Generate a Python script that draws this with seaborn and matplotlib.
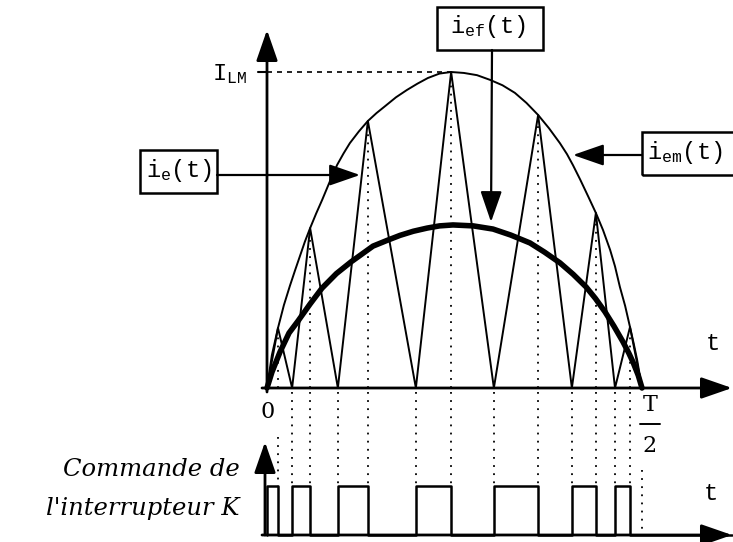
import matplotlib
matplotlib.use("Agg")
import matplotlib.pyplot as plt
from matplotlib.patches import Rectangle
import seaborn as sns

# Time normalised to the half period (T/2 = 1), currents in units of I_LM
env_t = [0.0, 0.013, 0.0293, 0.045, 0.061, 0.075, 0.088, 0.101, 0.115, 0.131, 0.147,
         0.167, 0.187, 0.204, 0.221, 0.245, 0.269, 0.292, 0.315, 0.344, 0.373, 0.401,
         0.429, 0.460, 0.491, 0.525, 0.560, 0.595, 0.628, 0.661, 0.692, 0.723, 0.752,
         0.781, 0.800, 0.816, 0.835, 0.857, 0.877, 0.896, 0.915, 0.928, 0.941, 0.955,
         0.968, 0.978, 0.987, 1.0]
env_i = [0.0, 0.104, 0.190, 0.262, 0.323, 0.373, 0.418, 0.463, 0.506, 0.552, 0.595,
         0.652, 0.706, 0.742, 0.775, 0.812, 0.845, 0.870, 0.892, 0.920, 0.943, 0.963,
         0.981, 0.995, 1.0, 0.997, 0.990, 0.975, 0.958, 0.934, 0.902, 0.864, 0.822,
         0.775, 0.740, 0.705, 0.660, 0.605, 0.554, 0.500, 0.437, 0.385, 0.320, 0.260,
         0.193, 0.140, 0.089, 0.0]

# switching instants of the inductor current i_e(t)
peak_t = [0.0293, 0.115, 0.269, 0.491, 0.723, 0.877, 0.968]
peak_i = [0.190, 0.506, 0.845, 1.0, 0.864, 0.554, 0.193]
valley_t = [0.067, 0.189, 0.397, 0.605, 0.813, 0.928]

# filtered (mean) current i_ef(t)
ief_t = [0.0, 0.0133, 0.0347, 0.0587, 0.0827, 0.115, 0.1467, 0.185, 0.224, 0.2827,
         0.32, 0.3547, 0.39, 0.4267, 0.46, 0.496, 0.55, 0.6027, 0.65, 0.7013, 0.74,
         0.7813, 0.8163, 0.8507, 0.876, 0.9013, 0.925, 0.9493, 0.965, 0.976, 0.99, 1.0]
ief_i = [0.0, 0.0506, 0.114, 0.174, 0.212, 0.266, 0.316, 0.362, 0.399, 0.449,
         0.467, 0.483, 0.496, 0.506, 0.513, 0.516, 0.513, 0.503, 0.484, 0.459, 0.430,
         0.396, 0.360, 0.320, 0.283, 0.241, 0.196, 0.146, 0.110, 0.082, 0.040, 0.0]

# ---- derived waveforms -------------------------------------------------------
tri_t, tri_i = [0.0], [0.0]
for k, (tp, ip) in enumerate(zip(peak_t, peak_i)):
    tri_t.append(tp); tri_i.append(ip)
    tri_t.append(valley_t[k] if k < len(valley_t) else 1.0); tri_i.append(0.0)

cmd_t, cmd_s = [0.0, 0.0], [0, 1]
for k, tp in enumerate(peak_t):
    cmd_t.append(tp); cmd_s.append(0)
    if k < len(valley_t):
        cmd_t.append(valley_t[k]); cmd_s.append(1)
cmd_t.append(1.24); cmd_s.append(0)

# ---- figure -------------------------------------------------------------------
sns.set_theme(style="white")
plt.rcParams["font.family"] = ["DejaVu Serif"]
plt.rcParams["mathtext.fontset"] = "custom"
plt.rcParams["mathtext.rm"] = "Liberation Mono"
plt.rcParams["mathtext.it"] = "Liberation Mono:italic"

W, H = 733, 542
fig = plt.figure(figsize=(W / 100, H / 100), dpi=100, facecolor="white")
ax = fig.add_axes([0, 0, 1, 1])        # current waveforms
ax2 = fig.add_axes([0, 0, 1, 1])       # switch command
X0, XS = 267.0, 375.0                   # pixel position of t = 0, pixels per T/2
Y0, YS = 388.0, 316.0                   # pixel position of i = 0, pixels per I_LM
ax.set_xlim(-X0 / XS, (W - X0) / XS)
ax.set_ylim((Y0 - H) / YS, Y0 / YS)
C0, CS = 535.0, 49.0                    # command axis baseline and pulse height
ax2.set_xlim(ax.get_xlim())
ax2.set_ylim((C0 - H) / CS, C0 / CS)
for a in (ax, ax2):
    a.axis("off")
    a.patch.set_alpha(0)


def P(x, y):
    """layout helper: pixel position -> coordinates of the main axes"""
    return ((x - X0) / XS, (Y0 - y) / YS)


ink = "black"
line = dict(color=ink, sort=False, estimator=None)
sns.lineplot(x=env_t, y=env_i, ax=ax, lw=1.4, **line)
sns.lineplot(x=tri_t, y=tri_i, ax=ax, lw=1.4, **line)
sns.lineplot(x=ief_t, y=ief_i, ax=ax, lw=4.0, **line)
sns.lineplot(x=cmd_t, y=cmd_s, ax=ax2, lw=1.8, drawstyle="steps-post", **line)

dots = (0, (1, 3.5))
ax.vlines(peak_t, 0, peak_i, colors=ink, lw=1.3, linestyles=dots)
low = P(0, 486)[1]
breaks = sorted(peak_t[1:] + valley_t)
ax.vlines(breaks, P(0, 392)[1], low, colors=ink, lw=1.3, linestyles=dots)
ax.vlines(peak_t[0], P(0, 437)[1], low, colors=ink, lw=1.3, linestyles=dots)
ax.vlines(1.0, P(0, 470)[1], P(0, 533)[1], colors=ink, lw=1.3, linestyles=dots)

# I_LM level
ax.plot([0, peak_t[3]], [1.0, 1.0], color=ink, lw=1.2, ls=(0, (3, 3)))
ax.plot([P(258, 0)[0], 0], [1.0, 1.0], color=ink, lw=1.5)

# axes with arrow heads
def arrow(p0, p1, lw=2.0):
    ax.annotate("", xy=P(*p1), xytext=P(*p0),
                arrowprops=dict(arrowstyle="-|>,head_length=0.95,head_width=0.33",
                                mutation_scale=20, lw=lw, color=ink,
                                shrinkA=0, shrinkB=0))

arrow((267, 392), (267, 30))
arrow((262, 388), (732, 388))
arrow((265, 535), (265, 442))
arrow((262, 535), (732, 535))

# labelled boxes with their pointers
def box(x0, y0, x1, y1):
    (a0, b1), (a1, b0) = P(x0, y0), P(x1, y1)
    ax.add_patch(Rectangle((a0, b0), a1 - a0, b1 - b0, fill=False, ec=ink, lw=1.8,
                           clip_on=False))

lab = dict(fontsize=17, color=ink, va="center")
box(437, 7, 543, 50)
ax.text(*P(488, 27), r"$\mathrm{i_{ef}(t)}$", ha="center", **lab)
arrow((492, 50), (491, 222), lw=1.6)

box(140, 150, 217, 193)
ax.text(*P(179, 170), r"$\mathrm{i_{e}(t)}$", ha="center", **lab)
arrow((217, 175), (360, 175), lw=1.6)

box(642, 132, 760, 175)
ax.text(*P(647, 152), r"$\mathrm{i_{em}(t)}$", ha="left", **lab)
arrow((642, 155), (573, 155), lw=1.6)

ax.text(*P(247, 74), r"$\mathrm{I_{LM}}$", ha="right", **lab)

ser = dict(fontsize=16, color=ink, ha="center", va="center")
ax.text(*P(268, 412), "0", **ser)
ax.text(*P(650, 405), "T", **ser)
ax.text(*P(650, 446), "2", **ser)
ax.plot([P(640, 0)[0], P(660, 0)[0]], [P(0, 424)[1]] * 2, color=ink, lw=1.4)
ax.text(*P(712, 343), r"$\mathrm{t}$", ha="center", **lab)
ax.text(*P(710, 493), r"$\mathrm{t}$", ha="center", **lab)

it = dict(fontsize=17.5, color=ink, ha="right", va="center", style="italic")
ax.text(*P(240, 470), "Commande de", **it)
ax.text(*P(240, 508), "l'interrupteur K", **it)

fig.savefig("out.png", dpi=100, facecolor="white")
